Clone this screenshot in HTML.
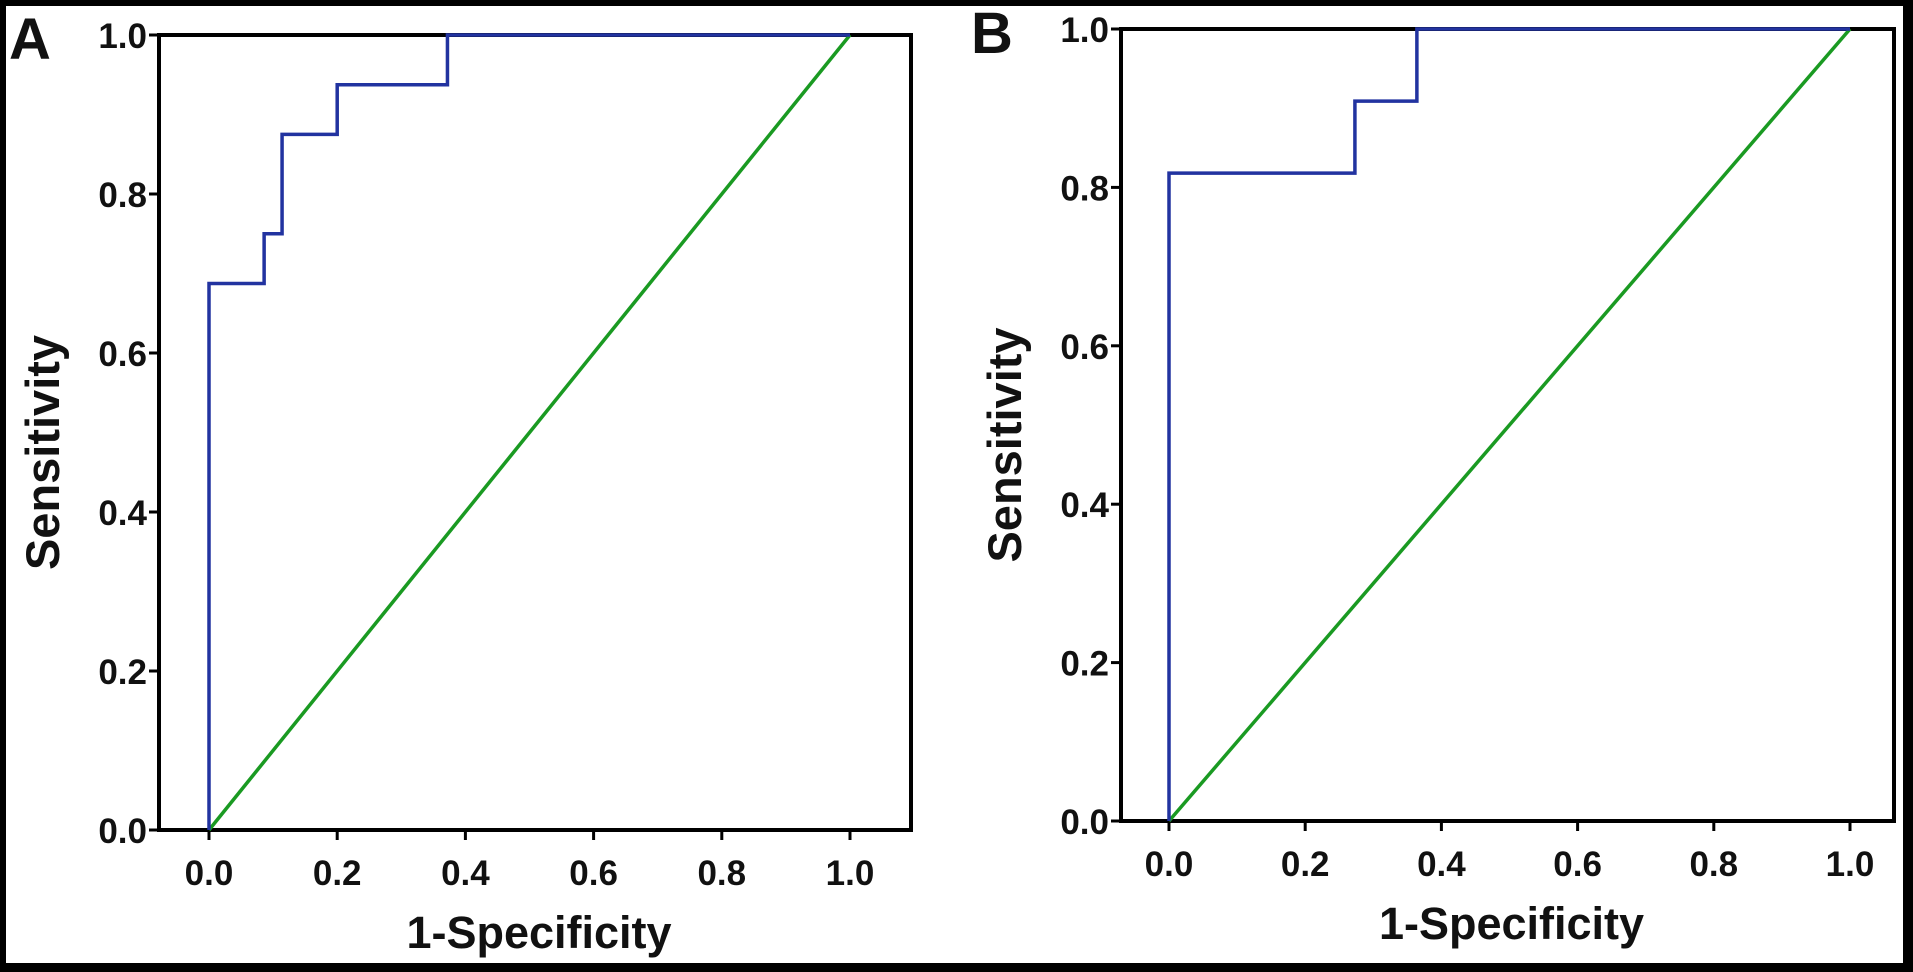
<!DOCTYPE html>
<html><head><meta charset="utf-8"><style>
html,body{margin:0;padding:0;background:#000;}
svg{display:block;font-family:"Liberation Sans",Arial,sans-serif;font-weight:bold;}
</style></head><body>
<svg id="chart" width="1913" height="972" viewBox="0 0 1913 972">
<rect x="6" y="6" width="1897" height="957" fill="#fff"/>
</svg>
<script>
const xTicks=[0,0.2,0.4,0.6,0.8,1.0];
const yTicks=[0,0.2,0.4,0.6,0.8,1.0];
const tickLabels=["0.0","0.2","0.4","0.6","0.8","1.0"];
const rocAx=[0,0,0.086,0.086,0.114,0.114,0.2,0.2,0.372,0.372,1];
const rocAy=[0,0.6875,0.6875,0.75,0.75,0.875,0.875,0.9375,0.9375,1,1];
const rocBx=[0,0,0.273,0.273,0.364,0.364,1];
const rocBy=[0,0.818,0.818,0.909,0.909,1,1];
const refX=[0,1];
const refY=[0,1];
const panels=[
 {id:'a',label:'A',fl:159,ft:35,fr:911,fb:830,x0:209,x1:850,rx:rocAx,ry:rocAy},
 {id:'b',label:'B',fl:1121,ft:29,fr:1894,fb:821,x0:1169,x1:1850,rx:rocBx,ry:rocBy}
];
const svg=document.getElementById('chart');
const NS='http://www.w3.org/2000/svg';
function mk(tag,attrs){const e=document.createElementNS(NS,tag);for(const k in attrs)e.setAttribute(k,attrs[k]);svg.appendChild(e);return e;}
panels.forEach(p=>{
 const sx=v=>p.x0+v*(p.x1-p.x0);
 const sy=v=>p.fb+v*(p.ft-p.fb);
 let e=mk('rect',{x:p.fl,y:p.ft,width:p.fr-p.fl,height:p.fb-p.ft,fill:'none',stroke:'#000','stroke-width':4});
 
 
 xTicks.forEach((t,i)=>{
  let l=mk('line',{x1:sx(t),x2:sx(t),y1:p.fb,y2:p.fb+10,stroke:'#000','stroke-width':3});
  
  
  let tx=mk('text',{x:sx(t),y:p.fb+55,'text-anchor':'middle','font-size':35,fill:'#111'});
  tx.textContent=tickLabels[i];
  
  
 });
 yTicks.forEach((t,i)=>{
  let l=mk('line',{x1:p.fl-10,x2:p.fl,y1:sy(t),y2:sy(t),stroke:'#000','stroke-width':3});
  
  
  let tx=mk('text',{x:p.fl-12,y:sy(t)+13,'text-anchor':'end','font-size':35,fill:'#111'});
  tx.textContent=tickLabels[i];
  
  
 });
 let g=mk('polyline',{points:refX.map((v,i)=>sx(v)+','+sy(refY[i])).join(' '),fill:'none',stroke:'#1a9a22','stroke-width':3.5});
 
 
 let b=mk('polyline',{points:p.rx.map((v,i)=>sx(v)+','+sy(p.ry[i])).join(' '),fill:'none',stroke:'#2233a0','stroke-width':3.5});
 
 
 let xt=mk('text',{x:(p.fl+p.fr)/2+4,y:p.fb+118,'text-anchor':'middle','font-size':45,fill:'#111'});
 xt.textContent='1-Specificity';
 
 
 const cy=(p.ft+p.fb)/2+20;
 let yt=mk('text',{x:0,y:0,'text-anchor':'middle','font-size':47,fill:'#111',transform:'translate('+(p.fl-100)+','+cy+') rotate(-90)'});
 yt.textContent='Sensitivity';
 
 
 let pl=mk('text',{x:p.fl-150,y:p.ft+24,'font-size':58,fill:'#111'});
 pl.textContent=p.label;
 
 
});
</script>
</body></html>
